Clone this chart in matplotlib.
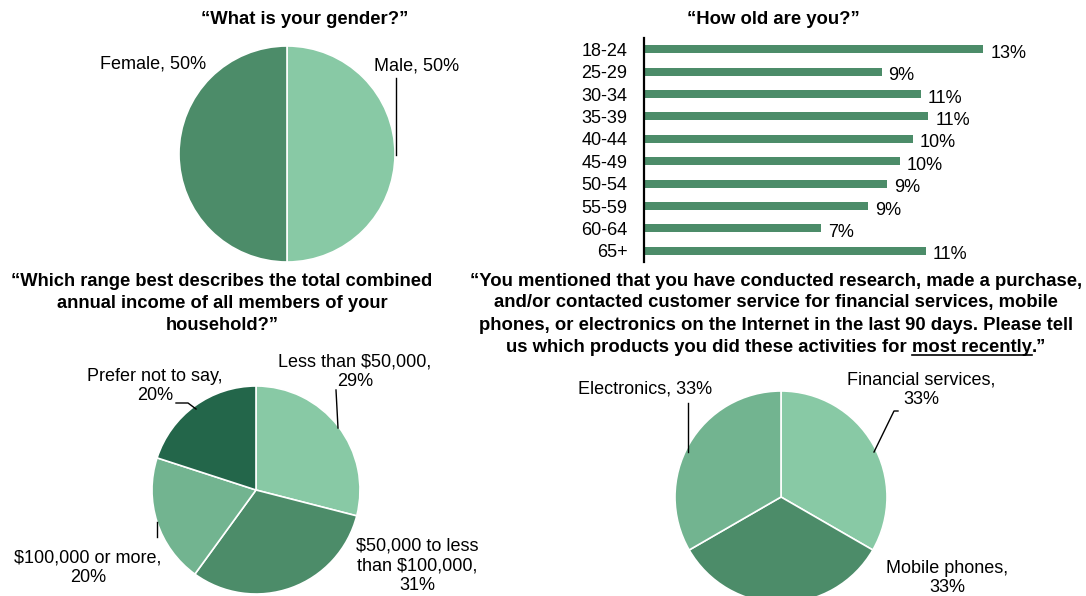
import matplotlib
matplotlib.use("Agg")
import matplotlib.pyplot as plt
from matplotlib.lines import Line2D

plt.rcParams['font.family'] = ['Liberation Sans', 'DejaVu Sans']

# survey answers
gender_labels = ["Male, 50%", "Female, 50%"]
gender_values = [50, 50]

age_groups = ["18-24", "25-29", "30-34", "35-39", "40-44",
              "45-49", "50-54", "55-59", "60-64", "65+"]
age_values = [13.0, 9.1, 10.6, 10.9, 10.3, 9.8, 9.3, 8.6, 6.8, 10.8]

income_labels = ["Less than $50,000,\n29%", "$50,000 to less\nthan $100,000,\n31%",
                 "$100,000 or more,\n20%", "Prefer not to say,\n20%"]
income_values = [29, 31, 20, 20]

product_labels = ["Financial services,\n33%", "Mobile phones,\n33%", "Electronics, 33%"]
product_values = [33, 33, 33]

LIGHT = "#88C9A5"
MID = "#4C8C69"
MIDLIGHT = "#72B490"
DARK = "#23664A"

W, H = 1086, 596
fig = plt.figure(figsize=(W / 100, H / 100), dpi=100)
fig.patch.set_facecolor("white")


def fx(x):
    return x / W


def fy(y):
    return 1 - y / H


def label(x, y, s, size=13, weight="normal", ha="center"):
    return fig.text(fx(x), fy(y), s, ha=ha, va="center", fontsize=size,
                    fontweight=weight, linespacing=1.2)


def leader(xs, ys):
    fig.add_artist(Line2D([fx(v) for v in xs], [fy(v) for v in ys],
                          color="black", lw=1.0, transform=fig.transFigure))


def pie_at(cx, cy, r, values, colors):
    ax = fig.add_axes([fx(cx - r), fy(cy + r), 2 * r / W, 2 * r / H])
    ax.pie(values, colors=colors, startangle=90, counterclock=False,
           wedgeprops=dict(edgecolor="white", linewidth=1.2))
    ax.set_xlim(-1, 1)
    ax.set_ylim(-1, 1)
    ax.axis("off")
    return ax


TITLE = 13.3

# gender
label(305, 19, "\u201cWhat is your gender?\u201d", TITLE, "bold")
pie_at(287, 154, 108, gender_values, [LIGHT, MID])
label(417, 66, gender_labels[0])
label(153, 64, gender_labels[1])
leader([396, 396], [78, 155])

# age
label(773, 20, "\u201cHow old are you?\u201d", TITLE, "bold")
bx0, bx1 = 644, 1070
ax = fig.add_axes([fx(bx0), fy(262), (bx1 - bx0) / W, (262 - 38) / H])
ax.barh(range(len(age_groups)), age_values, height=0.36, color=MID)
ax.set_ylim(len(age_groups) - 0.5, -0.5)
ax.set_xlim(0, (bx1 - bx0) / 26.1)
ax.set_yticks(range(len(age_groups)))
ax.set_yticklabels(age_groups, fontsize=13)
ax.tick_params(axis="y", length=0, pad=12)
ax.set_xticks([])
for s in ["top", "right", "bottom"]:
    ax.spines[s].set_visible(False)
ax.spines["left"].set_linewidth(1.6)
for i, v in enumerate(age_values):
    ax.annotate(f"{v:.0f}%", (v, i), xytext=(5, -3), textcoords="offset points",
                va="center", ha="left", fontsize=13)

# income
inc_title = ["\u201cWhich range best describes the total combined",
             "annual income of all members of your",
             "household?\u201d"]
for k, s in enumerate(inc_title):
    label(222, 282 + 21.5 * k, s, 13.2, "bold")
pie_at(256, 490, 104, income_values, [LIGHT, MID, MIDLIGHT, DARK])
label(355, 372, income_labels[0])
label(417, 566, income_labels[1])
label(88, 568, income_labels[2])
label(155, 386, income_labels[3])
leader([336, 338], [390, 428])
leader([176, 188, 196], [403, 403, 409])
leader([157, 157], [522, 537])

# products
q_lines = ["\u201cYou mentioned that you have conducted research, made a purchase,",
           "and/or contacted customer service for financial services, mobile",
           "phones, or electronics on the Internet in the last 90 days. Please tell"]
for k, s in enumerate(q_lines):
    label(776, 281 + 22 * k, s, TITLE, "bold")

# last line is drawn in three parts so "most recently" can be underlined
fig.canvas.draw()
rend = fig.canvas.get_renderer()


def text_w(s):
    t = fig.text(0, 0, s, fontsize=TITLE, fontweight="bold")
    w = t.get_window_extent(rend).width
    t.remove()
    return w


parts = ["us which products you did these activities for", "most recently", ".\u201d"]
space = text_w("a a") - text_w("aa")
total = text_w(parts[0]) + space + text_w(parts[1]) + text_w(parts[2])
x = 776 - total / 2
line_y = 347
pieces = []
for k, s in enumerate(parts):
    t = label(x, line_y, s, TITLE, "bold", ha="left")
    bb = t.get_window_extent(rend)
    pieces.append(bb)
    x = bb.x1 + (space if k == 0 else 0)
ub = pieces[1]
uy = ub.y0 + 1
fig.add_artist(Line2D([ub.x0 / W, ub.x1 / W], [uy / H, uy / H], color="black",
                      lw=1.2, transform=fig.transFigure))

pie_at(781, 497, 106, product_values, [LIGHT, MID, MIDLIGHT])
label(921, 390, product_labels[0])
label(947, 578, product_labels[1])
label(645, 389, product_labels[2])
leader([688, 688], [403, 452])
leader([898, 894, 874], [411, 411, 452])

fig.savefig("out.png", dpi=100, facecolor="white")
